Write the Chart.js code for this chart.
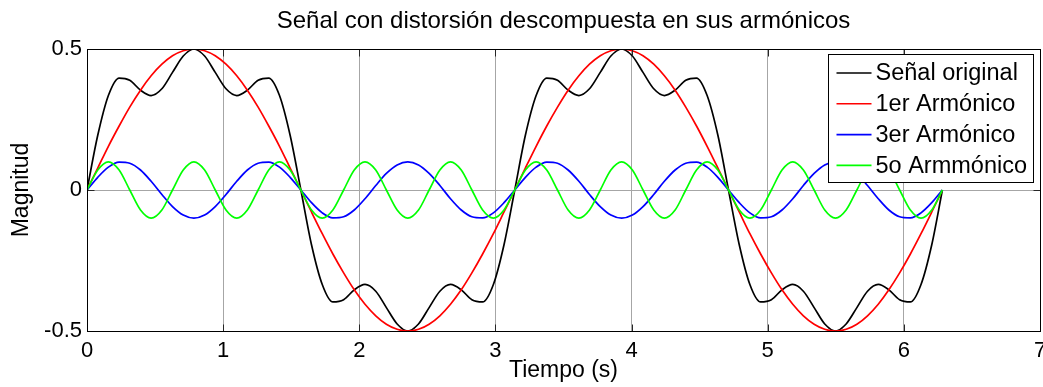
<!DOCTYPE html>
<html>
<head>
<meta charset="utf-8">
<script src="https://cdn.jsdelivr.net/npm/chart.js@4.4.0/dist/chart.umd.min.js"></script>
<style>
html, body { margin: 0; padding: 0; background: #fff; }
canvas { display: block; }
</style>
</head>
<body>
<canvas id="armonicos" width="1043" height="387"></canvas>
<script>
// muestras cada pi/40 s, de 0 a 2*pi
const tiempo = [
  0, 0.079, 0.157, 0.236, 0.314, 0.393, 0.471, 0.550, 0.628, 0.707,
  0.785, 0.864, 0.942, 1.021, 1.100, 1.178, 1.257, 1.335, 1.414, 1.492,
  1.571, 1.649, 1.728, 1.806, 1.885, 1.963, 2.042, 2.121, 2.199, 2.278,
  2.356, 2.435, 2.513, 2.592, 2.670, 2.749, 2.827, 2.906, 2.985, 3.063,
  3.142, 3.220, 3.299, 3.377, 3.456, 3.534, 3.613, 3.691, 3.770, 3.848,
  3.927, 4.006, 4.084, 4.163, 4.241, 4.320, 4.398, 4.477, 4.555, 4.634,
  4.712, 4.791, 4.869, 4.948, 5.027, 5.105, 5.184, 5.262, 5.341, 5.419,
  5.498, 5.576, 5.655, 5.733, 5.812, 5.890, 5.969, 6.048, 6.126, 6.205,
  6.283
];

const senalOriginal = [
  0, 0.194, 0.335, 0.397, 0.389, 0.354, 0.335, 0.359, 0.417, 0.475,
  0.5, 0.475, 0.417, 0.359, 0.335, 0.354, 0.389, 0.397, 0.335, 0.194,
  0, -0.194, -0.335, -0.397, -0.389, -0.354, -0.335, -0.359, -0.417, -0.475,
  -0.5, -0.475, -0.417, -0.359, -0.335, -0.354, -0.389, -0.397, -0.335, -0.194,
  0, 0.194, 0.335, 0.397, 0.389, 0.354, 0.335, 0.359, 0.417, 0.475,
  0.5, 0.475, 0.417, 0.359, 0.335, 0.354, 0.389, 0.397, 0.335, 0.194,
  0, -0.194, -0.335, -0.397, -0.389, -0.354, -0.335, -0.359, -0.417, -0.475,
  -0.5, -0.475, -0.417, -0.359, -0.335, -0.354, -0.389, -0.397, -0.335, -0.194,
  0
];

const armonico1 = [
  0, 0.078, 0.155, 0.227, 0.294, 0.354, 0.405, 0.446, 0.476, 0.494,
  0.5, 0.494, 0.476, 0.446, 0.405, 0.354, 0.294, 0.227, 0.155, 0.078,
  0, -0.078, -0.155, -0.227, -0.294, -0.354, -0.405, -0.446, -0.476, -0.494,
  -0.5, -0.494, -0.476, -0.446, -0.405, -0.354, -0.294, -0.227, -0.155, -0.078,
  0, 0.078, 0.155, 0.227, 0.294, 0.354, 0.405, 0.446, 0.476, 0.494,
  0.5, 0.494, 0.476, 0.446, 0.405, 0.354, 0.294, 0.227, 0.155, 0.078,
  0, -0.078, -0.155, -0.227, -0.294, -0.354, -0.405, -0.446, -0.476, -0.494,
  -0.5, -0.494, -0.476, -0.446, -0.405, -0.354, -0.294, -0.227, -0.155, -0.078,
  0
];

const armonico3 = [
  0, 0.045, 0.081, 0.099, 0.095, 0.071, 0.031, -0.016, -0.059, -0.089,
  -0.1, -0.089, -0.059, -0.016, 0.031, 0.071, 0.095, 0.099, 0.081, 0.045,
  0, -0.045, -0.081, -0.099, -0.095, -0.071, -0.031, 0.016, 0.059, 0.089,
  0.1, 0.089, 0.059, 0.016, -0.031, -0.071, -0.095, -0.099, -0.081, -0.045,
  0, 0.045, 0.081, 0.099, 0.095, 0.071, 0.031, -0.016, -0.059, -0.089,
  -0.1, -0.089, -0.059, -0.016, 0.031, 0.071, 0.095, 0.099, 0.081, 0.045,
  0, -0.045, -0.081, -0.099, -0.095, -0.071, -0.031, 0.016, 0.059, 0.089,
  0.1, 0.089, 0.059, 0.016, -0.031, -0.071, -0.095, -0.099, -0.081, -0.045,
  0
];

const armonico5 = [
  0, 0.071, 0.1, 0.071, 0, -0.071, -0.1, -0.071, 0, 0.071,
  0.1, 0.071, 0, -0.071, -0.1, -0.071, 0, 0.071, 0.1, 0.071,
  0, -0.071, -0.1, -0.071, 0, 0.071, 0.1, 0.071, 0, -0.071,
  -0.1, -0.071, 0, 0.071, 0.1, 0.071, 0, -0.071, -0.1, -0.071,
  0, 0.071, 0.1, 0.071, 0, -0.071, -0.1, -0.071, 0, 0.071,
  0.1, 0.071, 0, -0.071, -0.1, -0.071, 0, 0.071, 0.1, 0.071,
  0, -0.071, -0.1, -0.071, 0, 0.071, 0.1, 0.071, 0, -0.071,
  -0.1, -0.071, 0, 0.071, 0.1, 0.071, 0, -0.071, -0.1, -0.071,
  0
];

const xTicks = [0, 1, 2, 3, 4, 5, 6, 7];
const yTicks = [-0.5, 0, 0.5];

const etiquetas = ['Señal original', '1er Armónico', '3er Armónico', '5o Armmónico'];
const colores = ['#000000', '#ff0000', '#0000ff', '#00ff00'];

const FUENTE = "'Liberation Sans', Arial, sans-serif";

function puntos(serie) {
  return serie.map((y, i) => ({ x: tiempo[i], y: y }));
}

// recuadro de los ejes con marcas hacia dentro
const marco = {
  id: 'marco',
  afterDatasetsDraw(chart) {
    const { ctx, chartArea: a, scales: { x, y } } = chart;
    const L = Math.round(a.left) + 0.5, R = Math.round(a.right) + 0.5;
    const T = Math.round(a.top) + 0.5, B = Math.round(a.bottom) + 0.5;
    ctx.save();
    ctx.strokeStyle = '#262626';
    ctx.lineWidth = 1;
    ctx.beginPath();
    xTicks.forEach(v => {
      const px = Math.round(x.getPixelForValue(v)) + 0.5;
      ctx.moveTo(px, B); ctx.lineTo(px, B - 7);
      ctx.moveTo(px, T); ctx.lineTo(px, T + 7);
    });
    yTicks.forEach(v => {
      const py = Math.round(y.getPixelForValue(v)) + 0.5;
      ctx.moveTo(L, py); ctx.lineTo(L + 7, py);
      ctx.moveTo(R, py); ctx.lineTo(R - 7, py);
    });
    ctx.stroke();
    ctx.strokeStyle = '#000';
    ctx.strokeRect(L, T, R - L, B - T);
    ctx.restore();
  }
};

// leyenda dentro de los ejes, arriba a la derecha
const leyenda = {
  id: 'leyenda',
  afterDraw(chart) {
    const { ctx, chartArea: a } = chart;
    const w = 205, h = 128;
    const x0 = Math.round(a.right) - 7 - w + 0.5;
    const y0 = Math.round(a.top) + 5 + 0.5;
    ctx.save();
    ctx.fillStyle = '#fff';
    ctx.fillRect(x0, y0, w, h);
    ctx.strokeStyle = '#000';
    ctx.lineWidth = 1;
    ctx.strokeRect(x0, y0, w, h);
    ctx.font = '23.5px ' + FUENTE;
    ctx.textBaseline = 'middle';
    ctx.textAlign = 'left';
    etiquetas.forEach((txt, i) => {
      const cy = y0 + 18.5 + i * 30.8;
      ctx.strokeStyle = colores[i];
      ctx.lineWidth = 1.6;
      ctx.beginPath();
      ctx.moveTo(x0 + 8, cy);
      ctx.lineTo(x0 + 43, cy);
      ctx.stroke();
      ctx.fillStyle = '#000';
      ctx.fillText(txt, x0 + 47, cy + 1);
    });
    ctx.restore();
  }
};

new Chart(document.getElementById('armonicos'), {
  type: 'line',
  data: {
    datasets: [
      { label: etiquetas[0], data: puntos(senalOriginal), borderColor: colores[0], order: 4 },
      { label: etiquetas[1], data: puntos(armonico1), borderColor: colores[1], order: 3 },
      { label: etiquetas[2], data: puntos(armonico3), borderColor: colores[2], order: 2 },
      { label: etiquetas[3], data: puntos(armonico5), borderColor: colores[3], order: 1 }
    ]
  },
  options: {
    responsive: false,
    animation: false,
    devicePixelRatio: 1,
    layout: { padding: { left: 0, right: 3, top: 0, bottom: 0 } },
    elements: {
      point: { radius: 0 },
      line: { borderWidth: 1.7, fill: false, cubicInterpolationMode: 'monotone' }
    },
    plugins: {
      legend: { display: false },
      tooltip: { enabled: false },
      title: {
        display: true,
        text: 'Señal con distorsión descompuesta en sus armónicos',
        color: '#000',
        fullSize: false,
        font: { family: FUENTE, size: 24, weight: 'normal' },
        padding: { top: 7.2, bottom: 13 }
      }
    },
    scales: {
      x: {
        type: 'linear',
        min: 0,
        max: 7,
        afterBuildTicks(s) { s.ticks = xTicks.map(v => ({ value: v })); },
        afterFit(s) { s.height = 56; s.paddingLeft = 0; s.paddingRight = 0; },
        grid: {
          color: c => (c.tick && c.tick.value > 0 && c.tick.value < 7) ? '#a6a6a6' : 'rgba(0,0,0,0)',
          drawTicks: false,
          lineWidth: 1
        },
        border: { display: false },
        ticks: { color: '#000', font: { family: FUENTE, size: 22 }, padding: 7, maxRotation: 0, autoSkip: false },
        title: {
          display: true,
          text: 'Tiempo (s)',
          color: '#000',
          font: { family: FUENTE, size: 23 },
          padding: { top: 0, bottom: 2.9 }
        }
      },
      y: {
        min: -0.5,
        max: 0.5,
        afterBuildTicks(s) { s.ticks = yTicks.map(v => ({ value: v })); },
        afterFit(s) { s.width = 87; s.paddingTop = 0; s.paddingBottom = 0; },
        grid: {
          color: c => (c.tick && c.tick.value === 0) ? '#a6a6a6' : 'rgba(0,0,0,0)',
          drawTicks: false,
          lineWidth: 1
        },
        border: { display: false },
        ticks: { color: '#000', font: { family: FUENTE, size: 22 }, padding: 5 },
        title: {
          display: true,
          text: 'Magnitud',
          color: '#000',
          font: { family: FUENTE, size: 23 },
          padding: { top: 8.2, bottom: 0 }
        }
      }
    }
  },
  plugins: [marco, leyenda]
});
</script>
</body>
</html>
